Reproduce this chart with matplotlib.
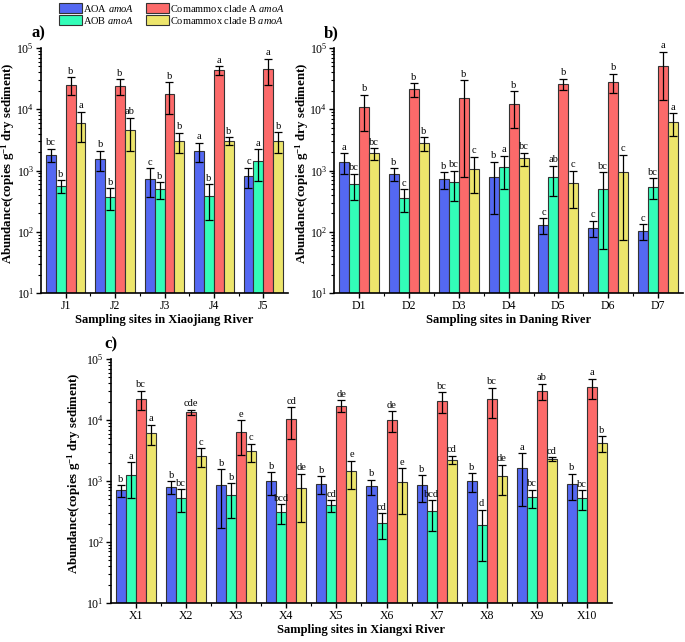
import numpy as np
import matplotlib
matplotlib.use("Agg")
import matplotlib.pyplot as plt
from matplotlib.ticker import FixedLocator, LogLocator, NullFormatter

plt.rcParams["font.family"] = ["Liberation Serif", "DejaVu Serif"]
plt.rcParams["mathtext.fontset"] = "custom"
plt.rcParams["mathtext.rm"] = "Liberation Serif"
plt.rcParams["mathtext.it"] = "Liberation Serif:italic"
plt.rcParams["mathtext.bf"] = "Liberation Serif:bold"
plt.rcParams["mathtext.default"] = "regular"

# ---- data (copies g-1 dry sediment), mean and SD ----
genes = ["AOA $\\mathit{amoA}$", "AOB $\\mathit{amoA}$",
         "Comammox clade A $\\mathit{amoA}$", "Comammox clade B $\\mathit{amoA}$"]
colors = ["#5468F2", "#33FDB8", "#FC6A6A", "#EDE56C"]

sites_a = ["J1", "J2", "J3", "J4", "J5"]
aoa_a = [1815, 1540, 726, 2115, 813]
aoa_a_sd = [435, 575, 360, 740, 300]
aob_a = [565, 368, 498, 378, 1449]
aob_a_sd = [133, 143, 150, 223, 770]
cla_a = [25100, 24200, 17900, 43650, 45900]
cla_a_sd = [8000, 6800, 9500, 7000, 21000]
clb_a = [6070, 4660, 3040, 3040, 3076]
clb_a_sd = [3100, 2570, 1120, 450, 1140]
letters_a = [["bc", "b", "c", "a", "c"],
             ["b", "b", "b", "b", "a"],
             ["b", "b", "b", "a", "a"],
             ["a", "ab", "b", "b", "b"]]

sites_b = ["D1", "D2", "D3", "D4", "D5", "D6", "D7"]
aoa_b = [1396, 877, 716, 793, 128, 117, 102]
aoa_b_sd = [510, 210, 217, 600, 37, 34, 30]
aob_b = [601, 350, 656, 1127, 793, 492, 544]
aob_b_sd = [276, 142, 338, 620, 407, 440, 200]
cla_b = [10820, 21330, 15180, 12270, 26060, 28120, 50100]
cla_b_sd = [6400, 5400, 14400, 7300, 5450, 9900, 36000]
clb_b = [1910, 2786, 1059, 1582, 617, 933, 6150]
clb_b_sd = [400, 710, 625, 380, 377, 860, 2480]
letters_b = [["a", "b", "b", "b", "c", "c", "c"],
             ["bc", "c", "bc", "a", "ab", "bc", "bc"],
             ["b", "b", "b", "b", "b", "b", "a"],
             ["bc", "b", "c", "bc", "c", "c", "a"]]

sites_c = ["X1", "X2", "X3", "X4", "X5", "X6", "X7", "X8", "X9", "X10"]
aoa_c = [703, 798, 871, 988, 904, 818, 849, 1012, 1633, 893]
aoa_c_sd = [146, 190, 700, 400, 290, 234, 390, 340, 1240, 410]
aob_c = [1270, 526, 582, 306, 399, 205, 318, 192, 540, 526]
aob_c_sd = [750, 213, 334, 108, 83, 93, 164, 143, 180, 185]
cla_c = [22390, 13360, 6280, 10520, 17180, 10120, 20740, 22100, 30260, 34750]
cla_c_sd = [7900, 1400, 3600, 5600, 3800, 3750, 7700, 11400, 9200, 12900]
clb_c = [6120, 2570, 3064, 758, 1440, 963, 2238, 1222, 2295, 4200]
clb_c_sd = [2260, 900, 980, 545, 710, 670, 365, 630, 180, 1200]
letters_c = [["b", "b", "b", "b", "b", "b", "b", "b", "a", "b"],
             ["a", "bc", "b", "bcd", "cd", "cd", "bcd", "d", "bc", "bc"],
             ["bc", "cde", "e", "cd", "de", "de", "bc", "bc", "ab", "a"],
             ["a", "c", "c", "de", "e", "e", "cd", "de", "cd", "b"]]


def draw_panel(ax, sites, means, sds, letters, xlabel, tag, ylab_x, tag_x):
    x = np.arange(1, len(sites) + 1)
    w = 0.2
    for i in range(4):
        xs = x + (i - 1.5) * w
        m = np.array(means[i], dtype=float)
        s = np.array(sds[i], dtype=float)
        ax.bar(xs, m, width=w, color=colors[i], edgecolor="#333333",
               linewidth=0.8, label=genes[i], zorder=2)
        ax.errorbar(xs, m, yerr=s, fmt="none", ecolor="black",
                    elinewidth=0.9, capsize=3, capthick=0.9, zorder=3)
        for xi, top, lab in zip(xs, m + s, letters[i]):
            ax.text(xi, top * 1.06, lab, ha="center", va="bottom", fontsize=7.5)
    ax.set_yscale("log")
    ax.set_ylim(10, 1e5)
    ax.set_xlim(0.5, len(sites) + 0.5)
    ax.set_xticks(x)
    ax.set_xticklabels(sites)
    ax.xaxis.set_minor_locator(FixedLocator(x[:-1] + 0.5))
    ax.yaxis.set_major_locator(LogLocator(base=10, numticks=10))
    ax.yaxis.set_minor_locator(LogLocator(base=10, subs=np.arange(2, 10), numticks=10))
    ax.yaxis.set_minor_formatter(NullFormatter())
    ax.spines["top"].set_visible(False)
    ax.spines["right"].set_visible(False)
    for sp in ("left", "bottom"):
        ax.spines[sp].set_linewidth(1.2)
    ax.tick_params(axis="both", which="major", direction="out", length=3.5,
                   width=1.0, labelsize=8.5, pad=1.5)
    ax.tick_params(axis="both", which="minor", direction="out", length=2, width=0.8)
    ax.set_xlabel(xlabel, fontsize=9, fontweight="bold", labelpad=1.5)
    ax.set_ylabel("Abundance(copies g$^{-1}$ dry sediment)", fontsize=9.3,
                  fontweight="bold")
    ax.yaxis.set_label_coords(ylab_x, 0.53)
    ax.text(tag_x, 1.06, tag, transform=ax.transAxes, fontsize=12,
            fontweight="bold", ha="center", va="center")


fig = plt.figure(figsize=(6.85, 6.42), dpi=100)
ax_a = fig.add_axes([0.0599, 0.5436, 0.3605, 0.3816])
ax_b = fig.add_axes([0.488, 0.5436, 0.509, 0.3816])
ax_c = fig.add_axes([0.162, 0.0607, 0.7314, 0.380])

draw_panel(ax_a, sites_a, [aoa_a, aob_a, cla_a, clb_a],
           [aoa_a_sd, aob_a_sd, cla_a_sd, clb_a_sd], letters_a,
           "Sampling sites in Xiaojiang River", "a)", -0.097, -0.01)
draw_panel(ax_b, sites_b, [aoa_b, aob_b, cla_b, clb_b],
           [aoa_b_sd, aob_b_sd, cla_b_sd, clb_b_sd], letters_b,
           "Sampling sites in Daning River", "b)", -0.068, -0.01)
draw_panel(ax_c, sites_c, [aoa_c, aob_c, cla_c, clb_c],
           [aoa_c_sd, aob_c_sd, cla_c_sd, clb_c_sd], letters_c,
           "Sampling sites in Xiangxi River", "c)", -0.055, 0.0)

handles, labels = ax_a.get_legend_handles_labels()
fig.legend(handles, labels, loc="upper left", bbox_to_anchor=(0.086, 0.996),
           ncol=2, frameon=False, fontsize=7.5, handlelength=2.2,
           handleheight=1.0, handletextpad=0.15, columnspacing=1.05,
           labelspacing=0.1, borderpad=0, borderaxespad=0)

fig.savefig("out.png", dpi=100)
